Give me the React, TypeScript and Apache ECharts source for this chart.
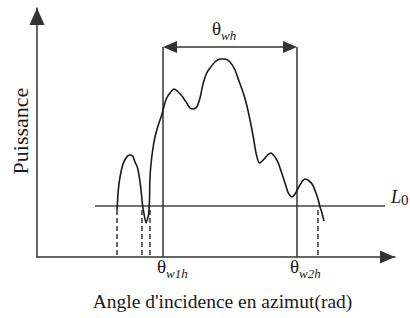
import React, { useEffect, useRef } from "react";
import * as echarts from "echarts";

// Power profile versus azimuth incidence angle (arbitrary units)
const curve: [number, number][] = [
  [80, 47], [80.3, 52], [81.3, 67], [83, 80], [85.7, 92], [89, 99], [92.3, 102],
  [95.7, 101], [98, 95], [100.3, 90], [102.3, 80], [104, 67], [105.3, 54],
  [106.3, 47], [109, 34], [111.5, 42], [112.5, 57], [112.8, 74], [113.7, 90],
  [115.7, 107], [118, 120], [121.3, 132], [124.7, 142], [127.3, 152], [129.7, 159],
  [133, 164], [137, 168], [141.3, 165], [145.7, 160], [149.7, 154], [153, 149],
  [156.3, 148], [159.7, 150], [163, 159], [166, 173], [169.7, 184], [173, 189],
  [178, 195], [183, 198], [188, 198], [193, 195], [198, 187], [202.3, 175],
  [206.3, 164], [209.7, 152], [213, 137], [216.3, 120], [219, 104], [222.3, 94],
  [226.3, 97], [229.7, 101], [233.7, 104], [238, 100], [241.3, 94], [244.7, 84],
  [248, 74], [251.3, 64], [254.7, 60], [258, 63], [261.3, 69], [264.7, 75],
  [268, 78], [272.3, 76], [275.7, 72], [279, 64], [281.3, 57], [283, 50],
  [284.7, 45], [287, 36],
];

const axisMax = { angle: 358, power: 249 };
const thresholdL0 = 51;
const thresholdSpan = [58, 348];
const crossingAngles = [80, 105, 113, 281];
const crossingTop = 47;
const beamEdges = [126, 260]; // θw1h, θw2h
const beamTop = 210;
const arrowInset = 7;

const xTitle = "Angle d'incidence en azimut(rad)";
const yTitle = "Puissance";
const edgeLabels = ["w1h", "w2h"];
const widthLabel = "wh";

const SERIF = "'Liberation Serif', 'Times New Roman', serif";
const INK = "#1a1a1a";
const LINE = "#333";

function thetaText(sub: string) {
  return {
    text: `{a|θ}{b|${sub}}`,
    rich: {
      a: { fontSize: 19, fontFamily: SERIF, lineHeight: 20, fill: INK, color: INK },
      b: {
        fontSize: 13,
        fontFamily: SERIF,
        fontStyle: "italic",
        lineHeight: 13,
        padding: [14, 0, 0, 0],
        fill: INK,
        color: INK,
      },
    },
    fill: INK,
    align: "left",
    textAlign: "left",
    verticalAlign: "top",
    textVerticalAlign: "top",
  };
}

export default function App() {
  const ref = useRef<HTMLDivElement>(null);
  useEffect(() => {
    if (!ref.current) return;
    const chart = echarts.init(ref.current, undefined, { renderer: "svg" });

    const series: any[] = [
      {
        type: "line",
        data: curve,
        showSymbol: false,
        smooth: 0.2,
        lineStyle: { color: INK, width: 1.6 },
        silent: true,
        z: 5,
      },
      {
        type: "line",
        data: [
          [thresholdSpan[0], thresholdL0],
          [thresholdSpan[1], thresholdL0],
        ],
        showSymbol: false,
        lineStyle: { color: "#444", width: 1.5 },
        silent: true,
      },
      ...beamEdges.map((x, i) => ({
        type: "line",
        data: [
          [x, 0],
          [x, beamTop],
        ],
        showSymbol: false,
        lineStyle: { color: LINE, width: 1.5 },
        silent: true,
        markLine:
          i === 0
            ? {
                silent: true,
                symbol: ["triangle", "triangle"],
                symbolSize: [12, 14],
                label: { show: false },
                lineStyle: { color: LINE, width: 1.5, type: "solid" },
                itemStyle: { color: "#111" },
                data: [
                  [
                    { coord: [beamEdges[0] + arrowInset, beamTop] },
                    { coord: [beamEdges[1] - arrowInset, beamTop] },
                  ],
                ],
              }
            : undefined,
      })),
      ...crossingAngles.map((x) => ({
        type: "line",
        data: [
          [x, crossingTop],
          [x, 0],
        ],
        showSymbol: false,
        lineStyle: { color: LINE, width: 1.5, type: [5, 3] },
        silent: true,
      })),
    ];

    chart.setOption({
      animation: false,
      grid: { left: 37, top: 8, width: 358, height: 249, containLabel: false },
      xAxis: {
        type: "value",
        min: 0,
        max: axisMax.angle,
        axisLine: {
          show: true,
          symbol: ["none", "triangle"],
          symbolSize: [13, 15],
          symbolOffset: [0, -7.5],
          lineStyle: { color: LINE, width: 1.5 },
        },
        axisTick: { show: false },
        axisLabel: { show: false },
        splitLine: { show: false },
      },
      yAxis: {
        type: "value",
        min: 0,
        max: axisMax.power,
        axisLine: {
          show: true,
          symbol: ["none", "triangle"],
          symbolSize: [15, 17],
          symbolOffset: [0, -8.5],
          lineStyle: { color: LINE, width: 1.5 },
        },
        axisTick: { show: false },
        axisLabel: { show: false },
        splitLine: { show: false },
      },
      series,
      graphic: [
        {
          type: "text",
          x: 20.6,
          y: 131,
          rotation: Math.PI / 2,
          style: {
            text: yTitle,
            fontSize: 22,
            fontFamily: SERIF,
            fill: INK,
            align: "center",
            textAlign: "center",
            verticalAlign: "middle",
            textVerticalAlign: "middle",
          },
        },
        {
          type: "text",
          x: 222.5,
          y: 301.4,
          style: {
            text: xTitle,
            fontSize: 19.5,
            fontFamily: SERIF,
            fill: INK,
            align: "center",
            textAlign: "center",
            verticalAlign: "middle",
            textVerticalAlign: "middle",
          },
        },
        { type: "text", x: 212, y: 18, style: thetaText(widthLabel) },
        { type: "text", x: 157, y: 256, style: thetaText(edgeLabels[0]) },
        { type: "text", x: 290, y: 256, style: thetaText(edgeLabels[1]) },
        {
          type: "text",
          x: 391,
          y: 188,
          style: {
            text: "{a|L}{b|0}",
            rich: {
              a: { fontSize: 18, fontFamily: SERIF, fontStyle: "italic", lineHeight: 18, fill: INK, color: INK },
              b: { fontSize: 15, fontFamily: SERIF, lineHeight: 15, padding: [5, 0, 0, 0], fill: INK, color: INK },
            },
            fill: INK,
            align: "left",
            textAlign: "left",
            verticalAlign: "top",
            textVerticalAlign: "top",
          },
        },
      ],
    });
    return () => chart.dispose();
  }, []);
  return (
    <div
      ref={ref}
      style={{ position: "fixed", left: 0, top: 0, width: 410, height: 318, background: "#fff" }}
    />
  );
}
